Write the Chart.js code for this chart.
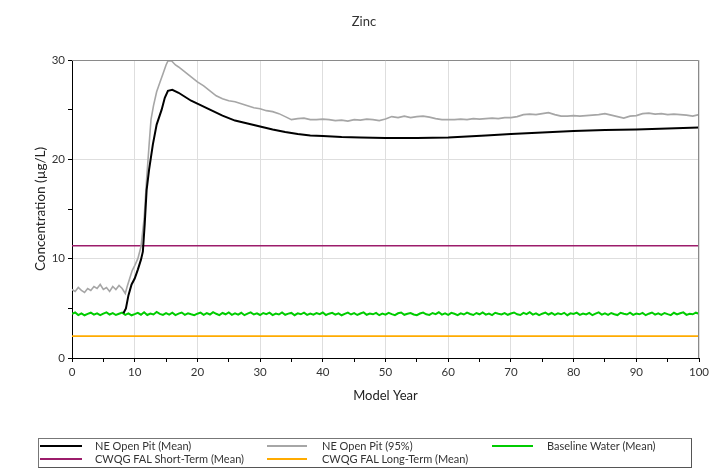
<!DOCTYPE html>
<html>
<head>
<meta charset="utf-8">
<script src="https://cdn.jsdelivr.net/npm/chart.js@4/dist/chart.umd.min.js"></script>
<style>
  html, body { margin: 0; padding: 0; background: #fff; }
  #wrap { position: relative; width: 728px; height: 476px; font-family: Lato, "Open Sans", sans-serif; color: #333; }
  #c { position: absolute; left: 0; top: 0; }
  #title { position: absolute; left: 0; width: 728px; top: 13px; text-align: center; font-size: 13px; line-height: 16px; color: #333; }
  #legend { position: absolute; left: 38px; top: 438px; width: 652px; height: 28px; border: 1px solid #777; border-right-color: #555; border-bottom-color: #555; }
  .li { position: absolute; font-size: 11px; line-height: 13px; color: #333; white-space: nowrap; }
  .ls { position: absolute; height: 2px; }
</style>
</head>
<body>
<div id="wrap">
  <canvas id="c" width="728" height="476"></canvas>
  <div id="title"></div>
  <div id="legend"></div>
</div>
<script>
// ---- Data ----
const chartTitle = "Zinc";
const xAxisTitle = "Model Year";
const yAxisTitle = "Concentration (µg/L)";

const seriesNames = ["NE Open Pit (Mean)", "NE Open Pit (95%)", "Baseline Water (Mean)",
                     "CWQG FAL Short-Term (Mean)", "CWQG FAL Long-Term (Mean)"];

const meanYears = [8.2, 8.6, 9.0, 9.5, 10.0, 10.5, 11.0, 11.3, 11.6, 11.9, 12.3, 12.9, 13.5, 14.3, 14.8, 15.3, 16.0, 17, 18, 19, 20, 22, 24, 26, 28, 30, 32, 34, 36, 38, 40, 43, 46, 50, 55, 60, 63, 66, 70, 75, 80, 85, 90, 95, 100];
const meanValues = [4.5, 5.0, 6.3, 7.4, 8.0, 8.9, 9.9, 10.7, 13.5, 16.9, 19.0, 21.5, 23.5, 25.0, 26.2, 26.9, 27.0, 26.7, 26.3, 25.9, 25.6, 25.0, 24.4, 23.9, 23.6, 23.3, 23.0, 22.75, 22.55, 22.4, 22.35, 22.25, 22.2, 22.15, 22.15, 22.2, 22.3, 22.4, 22.55, 22.7, 22.85, 22.95, 23.0, 23.1, 23.2];

const p95Years = [0, 0.5, 1, 1.5, 2, 2.5, 3, 3.5, 4, 4.5, 5, 5.5, 6, 6.5, 7, 7.5, 8, 8.5, 8.8, 9.2, 9.6, 10, 10.5, 11, 11.5, 11.9, 12.3, 12.6, 13.0, 13.5, 14, 14.5, 15, 15.3, 15.9, 16.5, 17, 18, 19, 20, 21, 22, 23, 24, 25, 26, 27, 28, 29, 30, 31, 32, 33, 34, 35, 36, 37, 38, 39, 40, 41, 42, 43, 44, 45, 46, 47, 48, 49, 50, 51, 52, 53, 54, 55, 56, 57, 58, 59, 60, 61, 62, 63, 64, 65, 66, 67, 68, 69, 70, 71, 72, 73, 74, 75, 76, 77, 78, 79, 80, 81, 82, 83, 84, 85, 86, 87, 88, 89, 90, 91, 92, 93, 94, 95, 96, 97, 98, 99, 100];
const p95Values = [6.9, 6.7, 7.1, 6.8, 6.6, 7.0, 6.8, 7.2, 7.0, 7.4, 6.9, 7.1, 6.7, 7.2, 6.9, 7.3, 7.0, 6.5, 7.2, 8.0, 8.8, 9.3, 10.0, 11.2, 14.0, 18.0, 21.5, 24.0, 25.4, 26.8, 27.7, 28.6, 29.5, 29.9, 29.9, 29.5, 29.3, 28.8, 28.3, 27.8, 27.4, 26.9, 26.4, 26.1, 25.9, 25.8, 25.6, 25.4, 25.2, 25.1, 24.9, 24.8, 24.6, 24.3, 24.0, 24.1, 24.15, 24.0, 24.0, 24.05, 24.0, 23.9, 23.95, 23.85, 24.0, 23.95, 24.05, 24.0, 23.9, 24.05, 24.3, 24.2, 24.35, 24.2, 24.3, 24.35, 24.25, 24.1, 24.0, 24.0, 24.0, 24.05, 24.0, 24.1, 24.05, 24.1, 24.15, 24.1, 24.2, 24.2, 24.3, 24.5, 24.55, 24.5, 24.6, 24.7, 24.5, 24.35, 24.35, 24.4, 24.35, 24.4, 24.45, 24.5, 24.6, 24.45, 24.3, 24.15, 24.35, 24.4, 24.6, 24.65, 24.55, 24.6, 24.5, 24.55, 24.5, 24.45, 24.35, 24.5];

const baselineStep = 0.5; // years between baseline samples, starting at year 0
const baselineValues = [
  4.45,4.58,4.32,4.5,4.3,4.44,4.56,4.36,4.49,4.31,4.46,4.6,4.38,4.52,4.33,4.45,4.57,4.35,4.5,4.3,
  4.42,4.55,4.36,4.6,4.33,4.48,4.38,4.63,4.44,4.34,4.52,4.37,4.56,4.32,4.47,4.58,4.35,4.5,4.4,4.31,
  4.46,4.57,4.34,4.52,4.38,4.62,4.45,4.32,4.53,4.4,4.58,4.35,4.49,4.37,4.55,4.31,4.47,4.6,4.38,4.5,
  4.33,4.53,4.42,4.57,4.32,4.48,4.38,4.59,4.35,4.47,4.54,4.31,4.5,4.4,4.57,4.34,4.48,4.37,4.53,4.42,
  4.58,4.33,4.46,4.55,4.36,4.5,4.3,4.44,4.57,4.38,4.52,4.33,4.48,4.59,4.35,4.47,4.4,4.54,4.31,4.48,
  4.37,4.55,4.42,4.32,4.5,4.58,4.35,4.46,4.53,4.38,4.31,4.48,4.57,4.4,4.34,4.53,4.42,4.6,4.37,4.49,
  4.35,4.54,4.45,4.31,4.5,4.38,4.57,4.43,4.33,4.53,4.4,4.59,4.37,4.48,4.32,4.55,4.45,4.38,4.52,4.35,
  4.48,4.58,4.4,4.33,4.54,4.42,4.62,4.37,4.5,4.32,4.46,4.57,4.38,4.53,4.35,4.49,4.4,4.55,4.31,4.5,
  4.43,4.57,4.34,4.48,4.38,4.54,4.31,4.46,4.59,4.37,4.5,4.35,4.53,4.4,4.32,4.55,4.45,4.38,4.57,4.34,
  4.48,4.4,4.54,4.31,4.46,4.58,4.37,4.5,4.35,4.53,4.42,4.32,4.55,4.38,4.5,4.59,4.34,4.46,4.4,4.56,
  4.45];

const shortTermGuideline = 11.3;
const longTermGuideline = 2.2;
const guidelineYears = [0, 100];

const xTickLabels = [0, 10, 20, 30, 40, 50, 60, 70, 80, 90, 100];
const yTickLabels = [0, 10, 20, 30];

const seriesColors = ["#000000", "#a6a6a6", "#00cc00", "#9c1c6b", "#ffab00"];
const seriesWidths = [2, 1.6, 2, 1.6, 1.6];

// ---- build ----
const pts = (xs, ys) => xs.map((x, i) => ({x: x, y: ys[i]}));
const baselinePts = baselineValues.map((v, i) => ({x: i * baselineStep, y: v}));

document.getElementById('title').textContent = chartTitle;

const frame = {
  id: 'frame',
  afterDatasetsDraw(chart) {
    const a = chart.chartArea, ctx = chart.ctx;
    ctx.save();
    ctx.strokeStyle = '#8a8a8a';
    ctx.lineWidth = 1;
    ctx.beginPath();
    ctx.moveTo(a.left, a.top + 0.5);
    ctx.lineTo(a.right - 0.5, a.top + 0.5);
    ctx.lineTo(a.right - 0.5, a.bottom);
    ctx.stroke();
    ctx.restore();
  }
};

const ds = [
  {data: pts(meanYears, meanValues)},
  {data: pts(p95Years, p95Values)},
  {data: baselinePts},
  {data: pts(guidelineYears, [shortTermGuideline, shortTermGuideline])},
  {data: pts(guidelineYears, [longTermGuideline, longTermGuideline])}
].map((d, i) => Object.assign(d, {
  label: seriesNames[i],
  borderColor: seriesColors[i],
  backgroundColor: seriesColors[i],
  borderWidth: seriesWidths[i],
  pointRadius: 0,
  tension: 0,
  fill: false
}));

const fontFam = "Lato, 'Open Sans', sans-serif";

new Chart(document.getElementById('c'), {
  type: 'line',
  data: {datasets: ds},
  options: {
    responsive: false,
    animation: false,
    devicePixelRatio: 1,
    layout: {padding: {top: 60, right: 29, left: 0, bottom: 0}},
    plugins: {legend: {display: false}, tooltip: {enabled: false}, title: {display: false}},
    scales: {
      x: {
        type: 'linear', min: 0, max: 100,
        afterFit(s) { s.height = 118; },
        ticks: {
          stepSize: 5, autoSkip: false, maxRotation: 0, padding: 3,
          color: '#333', font: {family: fontFam, size: 11.5},
          callback: v => xTickLabels.includes(v) ? String(v) : ''
        },
        grid: {
          color: c => (c.tick && xTickLabels.includes(c.tick.value)) ? '#dedede' : 'rgba(0,0,0,0)',
          tickColor: '#000', tickLength: 4, lineWidth: 1
        },
        border: {color: '#000', width: 1},
        title: {display: true, text: xAxisTitle, color: '#222', font: {family: fontFam, size: 13}, padding: {top: 0, bottom: 72}}
      },
      y: {
        type: 'linear', min: 0, max: 30,
        afterFit(s) { s.width = 72; },
        ticks: {
          stepSize: 5, autoSkip: false, padding: 3,
          color: '#333', font: {family: fontFam, size: 11.5},
          callback: v => yTickLabels.includes(v) ? String(v) : ''
        },
        grid: {
          color: c => (c.tick && yTickLabels.includes(c.tick.value)) ? '#dedede' : 'rgba(0,0,0,0)',
          tickColor: '#000', tickLength: 4, lineWidth: 1
        },
        border: {color: '#000', width: 1},
        title: {display: true, text: yAxisTitle, color: '#222', font: {family: fontFam, size: 13.5}, padding: {top: 33, bottom: 0}}
      }
    }
  },
  plugins: [frame]
});

// ---- legend (HTML text) ----
const leg = document.getElementById('legend');
const legendPos = [
  {lx: 40, lw: 42, tx: 95, row: 0},
  {lx: 267, lw: 40, tx: 322, row: 0},
  {lx: 492, lw: 41, tx: 547, row: 0},
  {lx: 40, lw: 42, tx: 95, row: 1},
  {lx: 267, lw: 40, tx: 322, row: 1}
];
const rowY = [446, 459];
seriesNames.forEach((name, i) => {
  const p = legendPos[i];
  const line = document.createElement('div');
  line.className = 'ls';
  line.style.left = (p.lx - 39) + 'px';
  line.style.width = p.lw + 'px';
  line.style.top = (rowY[p.row] - 439 - 1) + 'px';
  line.style.background = seriesColors[i];
  leg.appendChild(line);
  const t = document.createElement('div');
  t.className = 'li';
  t.style.left = (p.tx - 39) + 'px';
  t.style.top = (rowY[p.row] - 439 - 7) + 'px';
  t.textContent = name;
  leg.appendChild(t);
});
</script>
</body>
</html>
